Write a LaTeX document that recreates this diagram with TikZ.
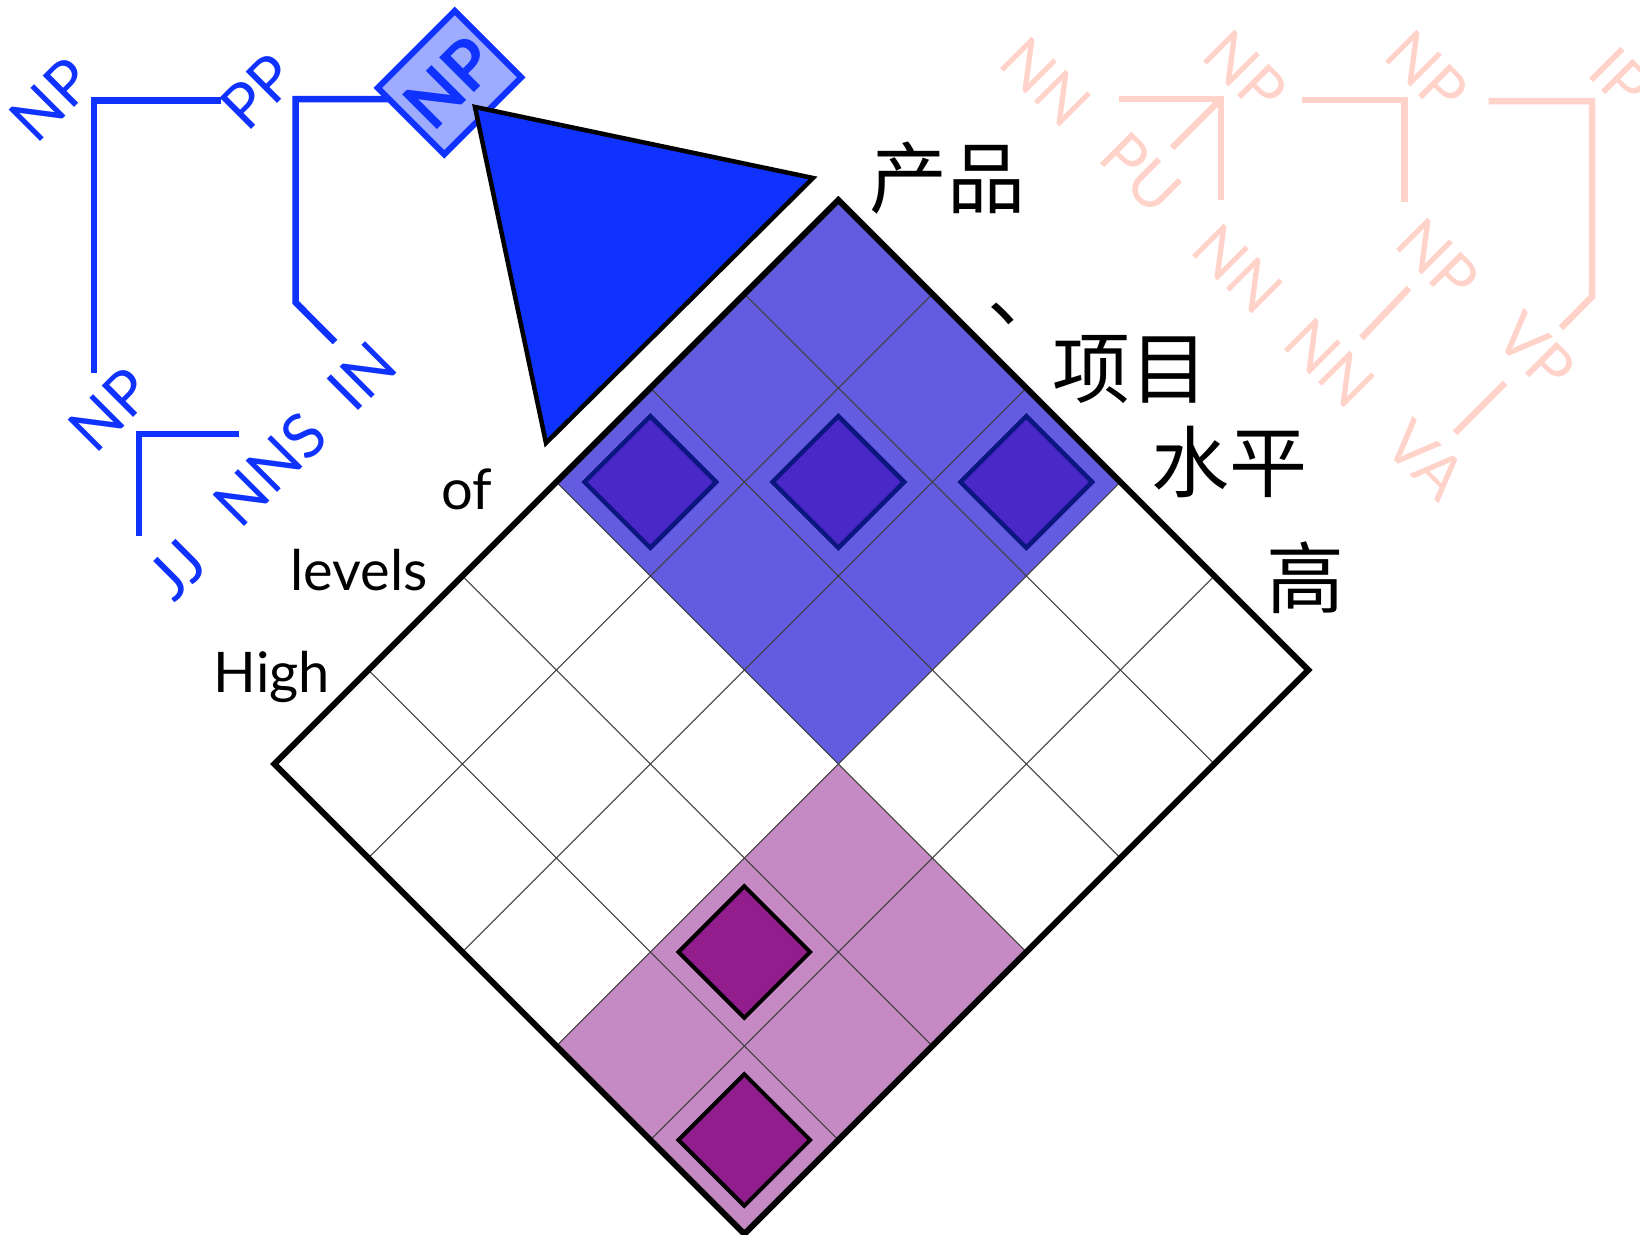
\documentclass[tikz,border=0pt]{standalone}
\usepackage{fontspec}
\setmainfont{Lato}
\newfontfamily\cjk{Noto Sans CJK SC}
\definecolor{treeblue}{RGB}{15,50,255}
\definecolor{pinkc}{RGB}{255,210,202}
\definecolor{regblue}{RGB}{100,92,224}
\definecolor{regpurple}{RGB}{197,138,196}
\definecolor{dblue}{RGB}{74,40,200}
\definecolor{mynavy}{RGB}{12,22,128}
\definecolor{dpurple}{RGB}{146,30,142}
\definecolor{npfill}{RGB}{158,172,255}
\begin{document}
\begin{tikzpicture}[x=1pt,y=-1pt,
  bluetree/.style={draw=treeblue,line width=6.5pt,miter limit=10},
  pinktree/.style={draw=pinkc,line width=6.5pt,miter limit=10},
  bluelab/.style={text=treeblue,rotate=45,inner sep=0pt,font=\fontsize{62}{64}\selectfont},
  pinklab/.style={text=pinkc,rotate=-45,inner sep=0pt,font=\fontsize{62}{64}\selectfont},
  wordlab/.style={inner sep=0pt,font=\fontsize{56}{60}\selectfont},
  zhlab/.style={inner sep=0pt,font=\cjk\fontsize{78}{82}\selectfont},
  gridline/.style={draw=black!75,line width=1pt},
  bluecell/.style={fill=dblue,draw=mynavy,line width=4.5pt},
  purplecell/.style={fill=dpurple,draw=black,line width=4pt},
  outerbox/.style={draw=black,line width=6pt},
  tri/.style={fill=treeblue,draw=black,line width=4.5pt,line join=miter}]
\path[use as bounding box] (0,0) rectangle (1640,1234);
\clip (0,0) rectangle (1640,1234);

% ---------- pink (Chinese) tree ----------
\coordinate (pa1) at (1118.5,99);
\coordinate (pa2) at (1221,99);
\coordinate (pa3) at (1221,200);
\coordinate (pa4) at (1172,148);
\coordinate (pb1) at (1302,100);
\coordinate (pb2) at (1404.7,100);
\coordinate (pb3) at (1404.7,201.7);
\coordinate (pc1) at (1488.5,101);
\coordinate (pc2) at (1592,101);
\coordinate (pc3) at (1592,296.7);
\coordinate (pc4) at (1561,328);
\coordinate (pd1) at (1409,288);
\coordinate (pd2) at (1361.5,338);
\coordinate (pe1) at (1505,383);
\coordinate (pe2) at (1455,433);
\draw[pinktree] (pa1) -- (pa2) -- (pa3);
\draw[pinktree] (pa2) -- (pa4);
\draw[pinktree] (pb1) -- (pb2) -- (pb3);
\draw[pinktree] (pc1) -- (pc2) -- (pc3) -- (pc4);
\draw[pinktree] (pd1) -- (pd2);
\draw[pinktree] (pe1) -- (pe2);
\node[pinklab] (pnn1) at (1046,82) {NN};
\node[pinklab] (pnp1) at (1245.5,71.7) {NP};
\node[pinklab] (pnp2) at (1427,71.7) {NP};
\node[pinklab] (pip) at (1620,78) {IP};
\node[pinklab] (ppu) at (1141,173) {PU};
\node[pinklab] (pnn2) at (1238,269) {NN};
\node[pinklab] (pnp3) at (1438,260) {NP};
\node[pinklab] (pnn3) at (1330,363) {NN};
\node[pinklab] (pvp) at (1536,352) {VP};
\node[pinklab] (pva) at (1426,460) {VA};

% ---------- blue (English) tree ----------
\coordinate (ba1) at (221,100.5);
\coordinate (ba2) at (94,100.5);
\coordinate (ba3) at (94,373);
\coordinate (bb1) at (388,99);
\coordinate (bb2) at (295.7,99);
\coordinate (bb3) at (295.7,302.5);
\coordinate (bb4) at (335,342);
\coordinate (bc1) at (239,434);
\coordinate (bc2) at (139,434);
\coordinate (bc3) at (139,535.7);
\draw[bluetree] (ba1) -- (ba2) -- (ba3);
\draw[bluetree] (bb1) -- (bb2) -- (bb3) -- (bb4);
\draw[bluetree] (bc1) -- (bc2) -- (bc3);
\node[bluelab] (bnp1) at (50.7,99.6) {NP};
\node[bluelab] (bpp) at (258,91.8) {PP};
\node[bluelab] (bnp2) at (110,409.6) {NP};
\node[bluelab] (bjj) at (177,570) {JJ};
\node[bluelab] (bnns) at (270,469) {NNS};
\node[bluelab] (bin) at (362,376) {IN};

% ---------- words ----------
\node[wordlab] (wof) at (467,489.5) {of};
\node[wordlab] (wlevels) at (359,570.5) {levels};
\node[wordlab] (whigh) at (271.7,676.5) {High};
\node[zhlab] (zchanpin) at (947.5,178) {产品};
\node[zhlab] (zdun) at (1026,314) {、};
\node[zhlab] (zxiangmu) at (1130,370) {项目};
\node[zhlab] (zshuiping) at (1229.5,462) {水平};
\node[zhlab] (zgao) at (1305,578) {高};

% ---------- chart ----------
\begin{scope}[shift={(838.3,200)},x={(-94pt,-94pt)},y={(94pt,-94pt)}]
  \fill[regblue] (0,0) -- (3,0) -- (3,3) -- (0,3) -- cycle;
  \fill[regpurple] (3,3) -- (6,3) -- (6,5) -- (3,5) -- cycle;
  \foreach \i in {1,...,5} \draw[gridline] (\i,0) -- (\i,5);
  \foreach \j in {1,...,4} \draw[gridline] (0,\j) -- (6,\j);
  \foreach \i/\j in {2/0,1/1,0/2}
    \draw[bluecell] (\i+.15,\j+.15) -- (\i+.85,\j+.15) -- (\i+.85,\j+.85) -- (\i+.15,\j+.85) -- cycle;
  \foreach \i/\j in {4/3,5/4}
    \draw[purplecell] (\i+.15,\j+.15) -- (\i+.85,\j+.15) -- (\i+.85,\j+.85) -- (\i+.15,\j+.85) -- cycle;
  \draw[outerbox] (0,0) -- (6,0) -- (6,5) -- (0,5) -- cycle;
\end{scope}

% ---------- NP box and triangle ----------
\node[draw=treeblue,fill=npfill,line width=6pt,rotate=45,minimum width=109pt,minimum height=94pt,inner sep=0pt,text=treeblue,font=\bfseries\fontsize{68}{68}\selectfont] (npbox) at (449.5,82.6) {NP};
\coordinate (t1) at (475,107);
\coordinate (t2) at (813,178);
\coordinate (t3) at (546,443);
\draw[tri] (t1) -- (t2) -- (t3) -- cycle;
\end{tikzpicture}
\end{document}
